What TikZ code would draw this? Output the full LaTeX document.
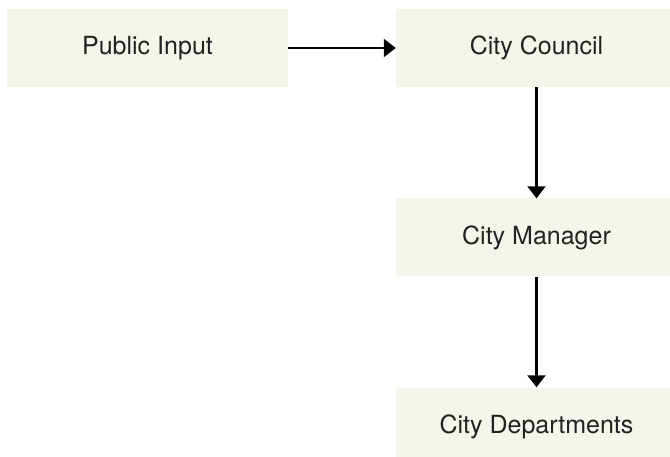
\documentclass[tikz,border=0pt]{standalone}
\usepackage{fontspec}
\setmainfont{TeX Gyre Heros}
\usetikzlibrary{arrows.meta}
\definecolor{boxfill}{HTML}{F3F7EB}
\definecolor{txt}{HTML}{222222}
\begin{document}
\begin{tikzpicture}[x=1pt,y=-1pt,
  box/.style={fill=boxfill, draw=none, minimum width=281pt, minimum height=78pt, inner sep=0pt, font=\fontsize{25}{30}\selectfont, text=txt},
  conn/.style={line width=2.2pt, -{Triangle[length=12pt,width=18pt]}}]
\useasboundingbox (0,0) rectangle (670,457);
\clip (0,0) rectangle (670,457);
\node[box] (pub) at (147.5,48) {Public Input};
\node[box] (coun) at (536.5,48) {City Council};
\node[box] (man) at (536.5,237.5) {City Manager};
\node[box] (dep) at (536.5,426.5) {City Departments};
\draw[conn] (pub.east) -- (coun.west);
\draw[conn] (coun.south) -- (man.north);
\draw[conn] (man.south) -- (dep.north);
\end{tikzpicture}
\end{document}
